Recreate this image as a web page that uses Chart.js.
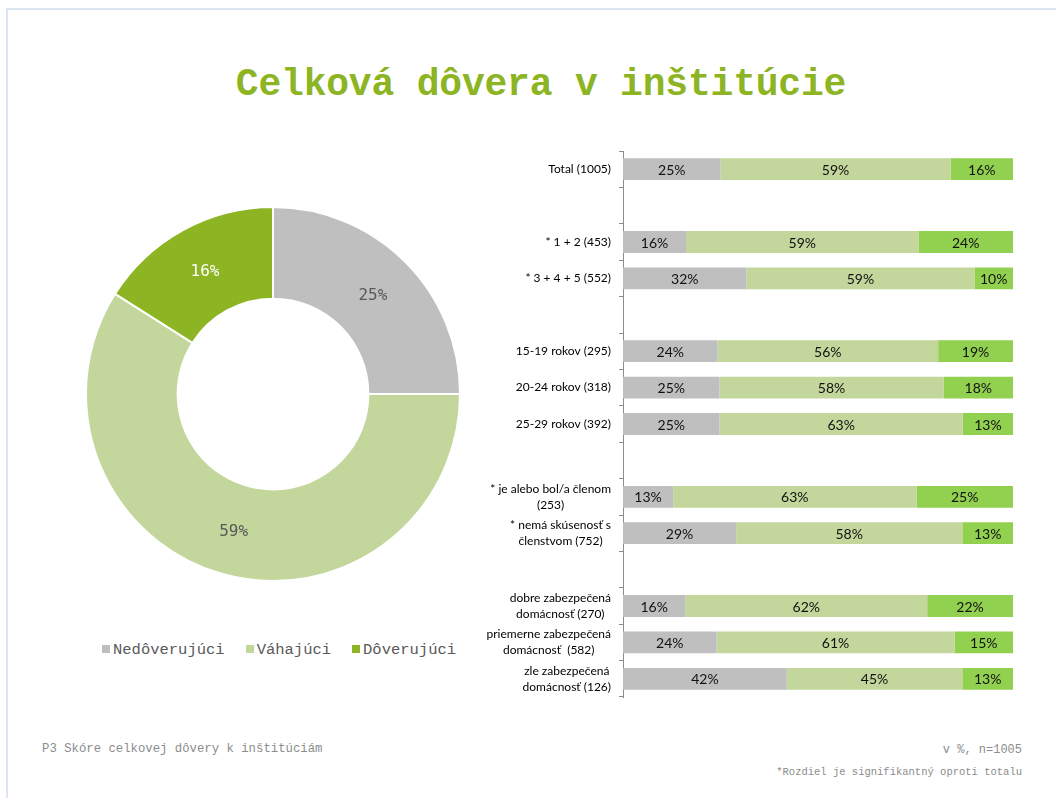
<!DOCTYPE html>
<html>
<head>
<meta charset="utf-8">
<script src="https://cdn.jsdelivr.net/npm/chart.js@4.4.1/dist/chart.umd.min.js"></script>
<style>
  html, body { margin: 0; padding: 0; background: #fff; }
  body { width: 1056px; height: 798px; position: relative; overflow: hidden; }
  .frame { position: absolute; left: 6px; top: 8px; width: 1060px; height: 800px;
           border-top: 2px solid #dce6f2; border-left: 2px solid #dce6f2; }
  #title { position: absolute; left: 0; width: 1082px; top: 63px; text-align: center;
           font-family: "Liberation Mono", monospace; font-weight: bold; font-size: 38px;
           color: #8cb423; letter-spacing: -0.2px; }
  #pie { position: absolute; left: 85px; top: 206px; }
  #bars { position: absolute; left: 470px; top: 140px; }
  #legend { position: absolute; left: 102px; top: 641px; font-family: "Liberation Mono", monospace;
            font-size: 15.5px; color: #595959; white-space: nowrap; }
  #legend span.item { margin-right: 21px; }
  #legend span.box { display: inline-block; width: 8px; height: 8px; margin-right: 3px; vertical-align: 1px; }
  .foot { position: absolute; font-family: "Liberation Mono", monospace; color: #8c8c8c; white-space: nowrap; }
</style>
</head>
<body>
<div class="frame"></div>
<div id="title">Celková dôvera v inštitúcie</div>
<canvas id="pie" width="376" height="376"></canvas>
<div id="legend"></div>
<canvas id="bars" width="560" height="570"></canvas>
<div class="foot" style="left:42px; top:742px; font-size:12.3px;">P3 Skóre celkovej dôvery k inštitúciám</div>
<div class="foot" style="right:34px; top:743px; font-size:12px;">v %, n=1005</div>
<div class="foot" style="right:34px; top:766px; font-size:10.5px;">*Rozdiel je signifikantný oproti totalu</div>

<script>
// ---------------------------------------------------------------------------
// Daten
// ---------------------------------------------------------------------------
const seriesNames = ["Nedôverujúci", "Váhajúci", "Dôverujúci"];
const pieValues = [25, 59, 16];
const pieColors = ["#bfbfbf", "#c3d69b", "#8cb423"];
const barColors = ["#bfbfbf", "#c3d69b", "#92d050"];

// leere Einträge = Abstand zwischen Gruppen
const groupLabels = [
    ["Total (1005)"],
    [""],
    ["* 1 + 2 (453)"],
    ["* 3 + 4 + 5 (552)"],
    [""],
    ["15-19 rokov (295)"],
    ["20-24 rokov (318)"],
    ["25-29 rokov (392)"],
    [""],
    ["* je alebo bol/a členom", "(253)"],
    ["* nemá skúsenosť s", "členstvom (752)"],
    [""],
    ["dobre zabezpečená", "domácnosť (270)"],
    ["priemerne zabezpečená", "domácnosť  (582)"],
    ["zle zabezpečená", "domácnosť (126)"]
];

const nedoverujuci = [25, null, 16, 32, null, 24, 25, 25, null, 13, 29, null, 16, 24, 42];
const vahajuci     = [59, null, 59, 59, null, 56, 58, 63, null, 63, 58, null, 62, 61, 45];
const doverujuci   = [16, null, 24, 10, null, 19, 18, 13, null, 25, 13, null, 22, 15, 13];

const barSeries = [nedoverujuci, vahajuci, doverujuci];

// ---------------------------------------------------------------------------
// Legende (HTML)
// ---------------------------------------------------------------------------
const legend = document.getElementById("legend");
seriesNames.forEach((name, i) => {
    legend.innerHTML += `<span class="item"><span class="box" style="background:${pieColors[i]}"></span>${name}</span>`;
});

// ---------------------------------------------------------------------------
// Plugins
// ---------------------------------------------------------------------------
const pieLabels = {
    id: "pieLabels",
    afterDatasetsDraw(chart) {
        const ctx = chart.ctx;
        const meta = chart.getDatasetMeta(0);
        ctx.save();
        ctx.font = "16px 'DejaVu Sans Mono', monospace";
        ctx.textAlign = "center";
        ctx.textBaseline = "middle";
        meta.data.forEach((arc, i) => {
            const p = arc.tooltipPosition();
            ctx.fillStyle = i === 2 ? "#ffffff" : "#595959";
            ctx.fillText(pieValues[i] + "%", p.x, p.y + 2);
        });
        ctx.restore();
    }
};

const barLabels = {
    id: "barLabels",
    afterDatasetsDraw(chart) {
        const ctx = chart.ctx;
        ctx.save();
        ctx.font = "14px Lato, sans-serif";
        ctx.fillStyle = "#111";
        ctx.textAlign = "center";
        ctx.textBaseline = "middle";
        chart.data.datasets.forEach((ds, di) => {
            const meta = chart.getDatasetMeta(di);
            meta.data.forEach((el, i) => {
                const v = barSeries[di][i];
                if (v == null) return;
                ctx.fillText(v + "%", (el.x + el.base) / 2, el.y + 1);
            });
        });
        ctx.restore();
    }
};

// Y-Beschriftung: Block rechtsbündig, Zeilen zueinander zentriert
const yLabels = {
    id: "yLabels",
    afterDraw(chart) {
        const ctx = chart.ctx;
        const yScale = chart.scales.y;
        const right = chart.chartArea.left - 12;
        ctx.save();
        ctx.font = "12px Lato, sans-serif";
        ctx.fillStyle = "#000";
        ctx.textAlign = "center";
        ctx.textBaseline = "middle";
        groupLabels.forEach((lines, i) => {
            const maxW = Math.max(...lines.map(l => ctx.measureText(l).width));
            const cx = right - maxW / 2;
            const y0 = yScale.getPixelForValue(i) - (lines.length - 1) * 8;
            lines.forEach((l, k) => ctx.fillText(l, cx, y0 + k * 16));
        });
        ctx.restore();
    }
};

// ---------------------------------------------------------------------------
// Donut
// ---------------------------------------------------------------------------
new Chart(document.getElementById("pie"), {
    type: "doughnut",
    data: {
        labels: seriesNames,
        datasets: [{
            data: pieValues,
            backgroundColor: pieColors,
            borderColor: "#ffffff",
            borderWidth: 2
        }]
    },
    options: {
        responsive: false,
        animation: false,
        cutout: "51%",
        plugins: { legend: { display: false }, tooltip: { enabled: false } }
    },
    plugins: [pieLabels]
});

// ---------------------------------------------------------------------------
// Gestapelte Balken (auf 100 % normiert)
// ---------------------------------------------------------------------------
const rowSums = groupLabels.map((_, i) =>
    barSeries.reduce((s, arr) => s + (arr[i] || 0), 0)
);

new Chart(document.getElementById("bars"), {
    type: "bar",
    data: {
        labels: groupLabels.map(l => l.join(" ")),
        datasets: barSeries.map((arr, di) => ({
            label: seriesNames[di],
            data: arr.map((v, i) => v == null ? null : v / rowSums[i] * 100),
            backgroundColor: barColors[di],
            borderWidth: 0,
            barPercentage: 0.6,
            categoryPercentage: 1
        }))
    },
    options: {
        indexAxis: "y",
        responsive: false,
        animation: false,
        layout: { padding: { top: 11, bottom: 13, right: 17, left: 0 } },
        scales: {
            x: { stacked: true, min: 0, max: 100, display: false },
            y: {
                stacked: true,
                ticks: { display: false },
                grid: {
                    drawOnChartArea: false,
                    drawTicks: true,
                    tickLength: 4,
                    offset: true,
                    color: "#8c8c8c"
                },
                border: { color: "#8c8c8c", width: 1 },
                afterFit(scale) { scale.width = 153; }
            }
        },
        plugins: { legend: { display: false }, tooltip: { enabled: false } }
    },
    plugins: [barLabels, yLabels]
});
</script>
</body>
</html>
